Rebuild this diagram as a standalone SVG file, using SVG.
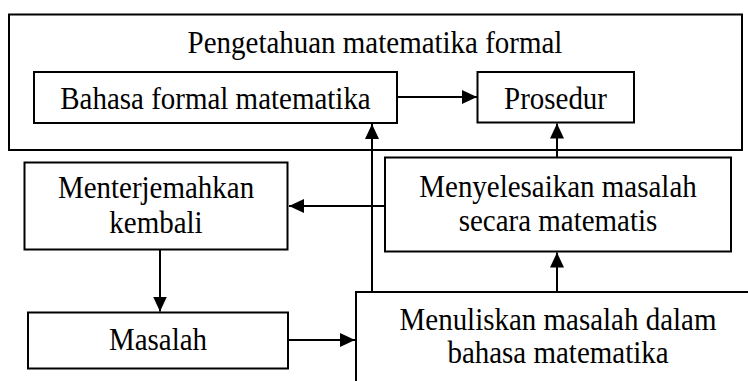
<svg xmlns="http://www.w3.org/2000/svg" width="748" height="381" viewBox="0 0 748 381">
<style>
.box{fill:#fff;stroke:#000;stroke-width:2}
.outer{fill:none;stroke:#000;stroke-width:2}
.t{font-family:"Liberation Serif","Times New Roman",serif;font-size:31.5px;fill:#000;text-anchor:middle}
.c{stroke:#000;stroke-width:2;fill:none;marker-end:url(#ah)}
</style>
<defs>
<marker id="ah" markerUnits="userSpaceOnUse" markerWidth="16" markerHeight="14" refX="15" refY="7" orient="auto">
<path d="M0,0 L15,7 L0,14 z" fill="#000"/>
</marker>
</defs>
<rect width="748" height="381" fill="#fff"/>
<g id="formal">
<rect class="outer" x="9" y="14.5" width="733" height="135.5"/>
<text class="t" transform="translate(375,53) scale(0.92,1)">Pengetahuan matematika formal</text>
</g>
<g id="bahasa">
<rect class="box" x="34" y="72" width="363" height="51"/>
<text class="t" transform="translate(215.5,109) scale(0.92,1)">Bahasa formal matematika</text>
</g>
<g id="prosedur">
<rect class="box" x="477.5" y="72" width="156.5" height="50.5"/>
<text class="t" transform="translate(555.5,109) scale(0.92,1)">Prosedur</text>
</g>
<g id="menterjemahkan">
<rect class="box" x="24.5" y="162.5" width="263" height="87"/>
<text class="t" transform="translate(156,198) scale(0.92,1)">Menterjemahkan</text>
<text class="t" transform="translate(156,233) scale(0.92,1)">kembali</text>
</g>
<g id="menyelesaikan">
<rect class="box" x="385" y="157.5" width="346" height="94"/>
<text class="t" transform="translate(558,197) scale(0.92,1)">Menyelesaikan masalah</text>
<text class="t" transform="translate(558,231) scale(0.92,1)">secara matematis</text>
</g>
<g id="masalah">
<rect class="box" x="28" y="312.5" width="260" height="56"/>
<text class="t" transform="translate(158,350) scale(0.92,1)">Masalah</text>
</g>
<g id="menuliskan">
<rect class="box" x="356" y="292" width="410" height="110"/>
<text class="t" transform="translate(558,330) scale(0.92,1)">Menuliskan masalah dalam</text>
<text class="t" transform="translate(558,363) scale(0.92,1)">bahasa matematika</text>
</g>
<g id="connectors">
<line class="c" x1="398" y1="97" x2="477" y2="97"/>
<line class="c" x1="372" y1="291" x2="372" y2="124"/>
<line class="c" x1="557" y1="157" x2="557" y2="123.5"/>
<line class="c" x1="385" y1="206" x2="289" y2="206"/>
<line class="c" x1="557" y1="291" x2="557" y2="252.5"/>
<line class="c" x1="160" y1="250" x2="160" y2="311.5"/>
<line class="c" x1="289" y1="340" x2="355" y2="340"/>
</g>
</svg>
